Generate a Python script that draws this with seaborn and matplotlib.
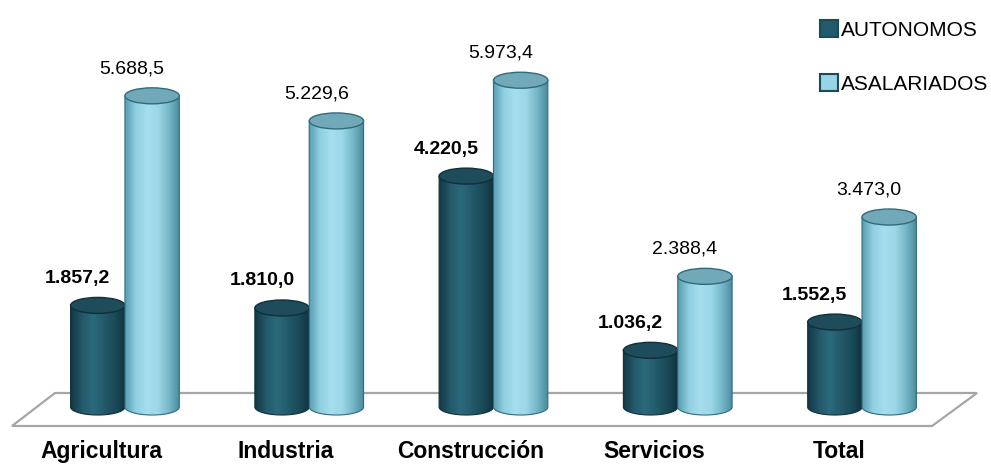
import numpy as np
import pandas as pd
import seaborn as sns
import matplotlib.pyplot as plt
from matplotlib import font_manager
from matplotlib.colors import LinearSegmentedColormap
from matplotlib.patches import Ellipse, PathPatch, Patch, Polygon
from matplotlib.path import Path

sectores = ["Agricultura", "Industria", "Construcción", "Servicios", "Total"]
autonomos = [1857.2, 1810.0, 4220.5, 1036.2, 1552.5]
asalariados = [5688.5, 5229.6, 5973.4, 2388.4, 3473.0]
tipos = ["AUTONOMOS", "ASALARIADOS"]

df = pd.DataFrame({
    "sector": sectores * 2,
    "tipo": [tipos[0]] * len(sectores) + [tipos[1]] * len(sectores),
    "valor": autonomos + asalariados,
})

palette = {"AUTONOMOS": "#215a6a", "ASALARIADOS": "#96d4e6"}

# cylinder shading
body_cmaps = [
    LinearSegmentedColormap.from_list("osc", ["#133844", "#22586a", "#2b6a7b", "#235a6a", "#1a4a58", "#11323d"]),
    LinearSegmentedColormap.from_list("cla", ["#5a9db0", "#8fd0e1", "#a6deee", "#9cd8e8", "#76b7c9", "#4a8a9d"]),
]
top_face = ["#1e4c5a", "#72a9b8"]
edge_col = ["#10303a", "#2e6c7d"]

sns.set_theme(style="white")
plt.rcParams["font.family"] = ["Liberation Sans", "DejaVu Sans"]
names = {f.name for f in font_manager.fontManager.ttflist}
if "Liberation Sans Narrow" in names:
    legend_font, legend_size = "Liberation Sans Narrow", 20
else:
    legend_font, legend_size = "Liberation Sans", 15

fig = plt.figure(figsize=(9.91, 4.65), dpi=100)
ax = fig.add_axes([0, 0, 1, 1])

sns.barplot(data=df, x="sector", y="valor", hue="tipo", palette=palette,
            width=0.59, legend=False, errorbar=None, ax=ax)

ylim = (-1060, 7440)
xlim = (-0.678, 4.700)
ax.set_xlim(*xlim)
ax.set_ylim(*ylim)
ax.axis("off")

units_per_px = (ylim[1] - ylim[0]) / 465
eh = 16 * units_per_px  # ellipse height of the cylinder caps

# floor (pixels -> data)
inv = ax.transData.inverted()
floor_px = [(12, 426), (932, 426), (977, 393), (55, 393)]
floor = [inv.transform((x, 465 - y)) for x, y in floor_px]
ax.add_patch(Polygon(floor, closed=True, facecolor="white", edgecolor="#a6a6a6",
                     linewidth=1.6, zorder=1))

grad = np.linspace(0, 1, 256).reshape(1, -1)
n = len(sectores)
for k, p in enumerate(list(ax.patches)):
    if not isinstance(p, plt.Rectangle) or k >= 2 * n:
        continue
    g = k // n
    x0, w, h = p.get_x(), p.get_width(), p.get_height()
    xc = x0 + w / 2
    p.set_visible(False)
    z = 2 + g

    t = np.linspace(np.pi, 2 * np.pi, 60)
    arc = np.column_stack([xc + w / 2 * np.cos(t), eh / 2 * np.sin(t)])
    verts = np.vstack([[x0, h], arc, [x0 + w, h], [x0, h]])
    codes = [Path.MOVETO] + [Path.LINETO] * (len(verts) - 2) + [Path.CLOSEPOLY]
    body = PathPatch(Path(verts, codes), facecolor="none", edgecolor=edge_col[g],
                     linewidth=0.8, zorder=z + 0.2)
    ax.add_patch(body)
    im = ax.imshow(grad, extent=[x0, x0 + w, -eh / 2, h], aspect="auto",
                   cmap=body_cmaps[g], zorder=z, interpolation="bicubic")
    im.set_clip_path(body)
    ax.add_patch(Ellipse((xc, h), w, eh, facecolor=top_face[g], edgecolor=edge_col[g],
                         linewidth=1.0, zorder=z + 0.3))

    txt = f"{h:,.1f}".replace(",", "X").replace(".", ",").replace("X", ".")
    ax.annotate(txt, xy=(xc, h), xytext=(-20, 27), textcoords="offset pixels",
                ha="center", va="center", fontsize=14,
                fontweight="bold" if g == 0 else "normal", color="black", zorder=10)

ax.set_xlim(*xlim)
ax.set_ylim(*ylim)

for i, s in enumerate(sectores):
    ax.text(i - 0.125, 1 - 458 / 465, s, transform=ax.get_xaxis_transform(),
            ha="center", va="baseline", fontsize=16.5, fontweight="bold", color="black")

handles = [Patch(facecolor=palette[t], edgecolor="#1c4a57", linewidth=1.5, label=t) for t in tipos]
fig.legend(handles=handles, loc="upper left", bbox_to_anchor=(810 / 991, 1 - 10 / 465),
           frameon=False, prop={"family": legend_font, "size": legend_size}, borderpad=0,
           handlelength=0.85, handleheight=0.85, handletextpad=0.15, labelspacing=1.65,
           labelcolor="black")

fig.savefig("out.png", dpi=100)
